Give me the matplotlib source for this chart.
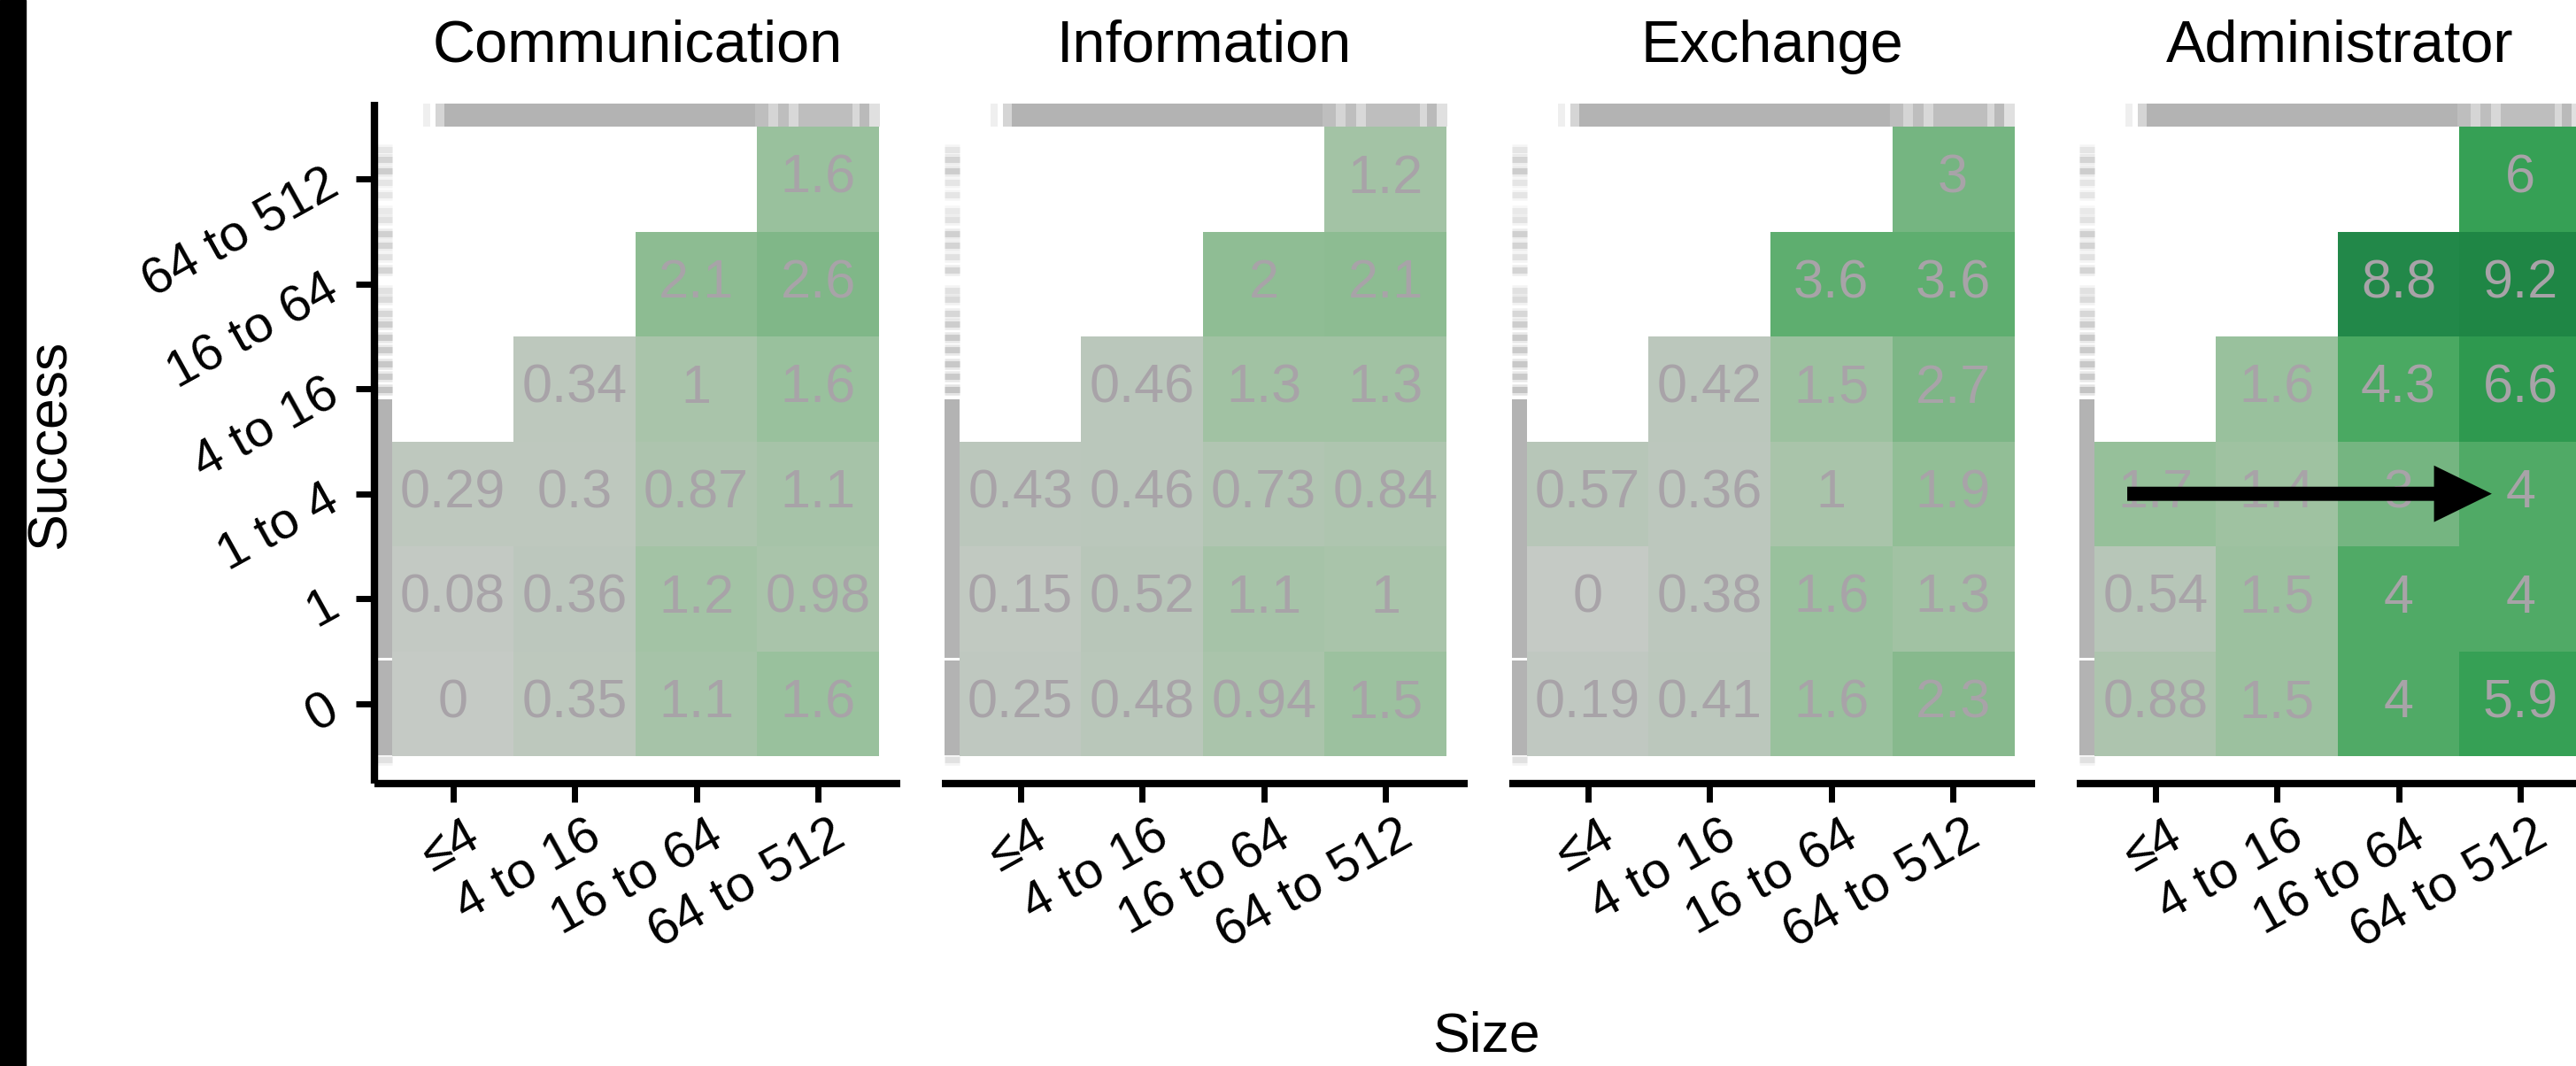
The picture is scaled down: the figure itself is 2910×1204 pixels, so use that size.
import numpy as np
import matplotlib
matplotlib.use('Agg')
import matplotlib.pyplot as plt
import matplotlib.transforms as mtransforms
from matplotlib.colors import LinearSegmentedColormap

plt.rcParams.update({
    'font.family': ['Liberation Sans', 'DejaVu Sans'],
    'axes.spines.top': False,
    'axes.spines.right': False,
})

PANELS = ['Communication', 'Information', 'Exchange', 'Administrator']
SIZE_LABELS = ['≤4', '4 to 16', '16 to 64', '64 to 512']
SUCCESS_LABELS = ['0', '1', '1 to 4', '4 to 16', '16 to 64', '64 to 512']

nan = np.nan
# rows = Success bins (bottom -> top), columns = Size bins
COMMUNICATION = [[0.00, 0.35, 1.1, 1.6],
                 [0.08, 0.36, 1.2, 0.98],
                 [0.29, 0.30, 0.87, 1.1],
                 [nan, 0.34, 1.0, 1.6],
                 [nan, nan, 2.1, 2.6],
                 [nan, nan, nan, 1.6]]
INFORMATION = [[0.25, 0.48, 0.94, 1.5],
               [0.15, 0.52, 1.1, 1.0],
               [0.43, 0.46, 0.73, 0.84],
               [nan, 0.46, 1.3, 1.3],
               [nan, nan, 2.0, 2.1],
               [nan, nan, nan, 1.2]]
EXCHANGE = [[0.19, 0.41, 1.6, 2.3],
            [0.00, 0.38, 1.6, 1.3],
            [0.57, 0.36, 1.0, 1.9],
            [nan, 0.42, 1.5, 2.7],
            [nan, nan, 3.6, 3.6],
            [nan, nan, nan, 3.0]]
ADMINISTRATOR = [[0.88, 1.5, 4.0, 5.9],
                 [0.54, 1.5, 4.0, 4.0],
                 [1.7, 1.4, 3.0, 4.0],
                 [nan, 1.6, 4.3, 6.6],
                 [nan, nan, 8.8, 9.2],
                 [nan, nan, nan, 6.0]]
PANEL_DATA = [COMMUNICATION, INFORMATION, EXCHANGE, ADMINISTRATOR]

# marginal rugs (Success on the left, Size on top): dense spans + sparse ticks with weight
LEFT_RUG_SPANS = [(-0.49, 0.41), (0.44, 2.90)]
LEFT_RUG_TICKS = [(5.28, .30), (5.19, .55), (5.08, .65), (4.97, .30), (4.85, .30),
                  (4.70, .25), (4.61, .35), (4.48, .60), (4.37, .55), (4.26, .35),
                  (4.13, .55), (3.94, .35), (3.85, .45), (3.72, .50), (3.62, .65),
                  (3.49, .70), (3.37, .70), (3.24, .75), (3.12, .70), (2.99, .85),
                  (-0.53, .35)]
TOP_RUG = [(-0.245, -0.19, .20), (-0.14, -0.07, .55), (-0.07, 2.48, 1.0),
           (2.48, 2.59, .85), (2.59, 2.67, .55), (2.67, 2.76, .85),
           (2.76, 2.84, .50), (2.84, 3.28, .85), (3.28, 3.34, .50),
           (3.34, 3.42, .90), (3.42, 3.51, .40)]

CMAP_STOPS = [(0.0, '#c5cac5'), (0.5, '#b9c7ba'), (1.0, '#a9c4aa'), (1.6, '#99c19d'),
              (2.1, '#8dbc92'), (2.6, '#80b788'), (3.0, '#75b581'), (3.6, '#5faf70'),
              (4.0, '#51ab67'), (4.3, '#4aa962'), (6.0, '#36a055'), (6.6, '#2f9a50'),
              (8.8, '#23894a'), (9.2, '#1f8645')]
VMAX = 9.2
cmap = LinearSegmentedColormap.from_list(
    'grey_green', [(v / VMAX, c) for v, c in CMAP_STOPS])
cmap.set_bad('white')

RUG_GREY = '#b3b3b3'
LABEL_GREY = '#a8a3a8'
TICK_SIZE = 42
TICK_ANGLE = 29

W, H = 2910, 1204
fig = plt.figure(figsize=(W / 100, H / 100), dpi=100)
renderer = fig.canvas.get_renderer()

# dark strip along the left edge
fig.patches.append(plt.Rectangle((0, 0), 29 / W, 1, transform=fig.transFigure,
                                 color='black', zorder=10))

ax_left, ax_bottom, ax_w, ax_h, step = 423, 885, 594, 770, 641
for k, (name, vals) in enumerate(zip(PANELS, PANEL_DATA)):
    ax = fig.add_axes([(ax_left + k * step) / W, 1 - ax_bottom / H, ax_w / W, ax_h / H])
    z = np.ma.masked_invalid(np.array(vals, dtype=float))
    ax.imshow(z, cmap=cmap, vmin=0, vmax=VMAX, origin='lower', aspect='auto',
              extent=(-0.5, 3.5, -0.5, 5.5), interpolation='nearest', zorder=1)
    for i, row in enumerate(vals):
        for j, v in enumerate(row):
            if not np.isnan(v):
                ax.text(j, i, f'{v:g}', ha='center', va='center',
                        fontsize=44, color=LABEL_GREY, zorder=3)

    # rugs
    for lo, hi in LEFT_RUG_SPANS:
        ax.fill_betweenx([lo, hi], -0.624, -0.5, color=RUG_GREY, lw=0, zorder=2)
    for y, w in LEFT_RUG_TICKS:
        ax.hlines(y, -0.624, -0.5, color=RUG_GREY, alpha=w * 0.4, lw=9, zorder=2)
        ax.hlines(y, -0.624, -0.5, color=RUG_GREY, alpha=w * 0.8, lw=5, zorder=2)
    for x0, x1, w in TOP_RUG:
        ax.fill_between([x0, x1], 5.5, 5.72, color=RUG_GREY, alpha=w, lw=0, zorder=2)

    ax.set_xlim(-0.645, 3.675)
    ax.set_ylim(-0.762, 5.736)

    ax.text(0.5, 1 + 45 / ax_h, name, transform=ax.transAxes, ha='center',
            va='baseline', fontsize=48)

    for side in ('bottom', 'left'):
        ax.spines[side].set_linewidth(6)
        ax.spines[side].set_capstyle('butt')
    ax.tick_params(axis='both', length=15, width=5, color='black', labelsize=TICK_SIZE)
    ax.tick_params(axis='x', pad=25)
    ax.tick_params(axis='y', pad=17)
    ax.set_xticks(range(len(SIZE_LABELS)))
    ax.set_xticklabels(SIZE_LABELS, rotation=TICK_ANGLE, ha='right', va='center',
                       rotation_mode='anchor')
    shift = mtransforms.ScaledTranslation(0.26, 0, fig.dpi_scale_trans)
    for lab in ax.get_xticklabels():
        lab.set_transform(lab.get_transform() + shift)

    if k == 0:
        ax.set_yticks(range(len(SUCCESS_LABELS)))
        ax.set_yticklabels(SUCCESS_LABELS, rotation=TICK_ANGLE, ha='right', va='center',
                           rotation_mode='anchor')
        yshift = mtransforms.ScaledTranslation(0, -0.03, fig.dpi_scale_trans)
        for lab in ax.get_yticklabels():
            lab.set_transform(lab.get_transform() + yshift)
    else:
        ax.spines['left'].set_visible(False)
        ax.set_yticks([])

    if name == 'Administrator':
        row = SUCCESS_LABELS.index('1 to 4')
        ax.annotate('', xy=(3 - 0.235, row), xytext=(0 - 0.23, row),
                    arrowprops=dict(arrowstyle='simple,head_length=47,head_width=46,tail_width=11.5',
                                    mutation_scale=1, color='black', lw=0,
                                    shrinkA=0, shrinkB=0), zorder=5)

fig.text(57 / W, 1 - 502 / H, 'Success', rotation=90, ha='center', va='center', fontsize=45)
fig.text(1679 / W, 1 - 1171 / H, 'Size', ha='center', va='center', fontsize=45)

fig.savefig('out.png', dpi=100)
